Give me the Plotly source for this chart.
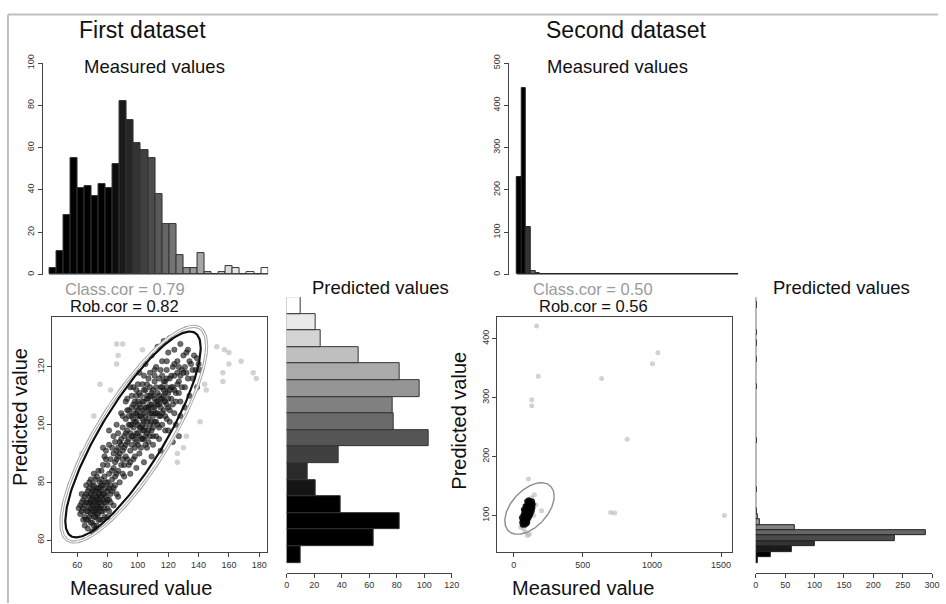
import numpy as np
import plotly.graph_objects as go

W, H = 946, 604

# ---------------- data ----------------
meas1_counts = [3, 11, 28, 55, 41, 42, 37, 43, 41, 52, 82, 73, 62, 59, 55, 38,
                24, 24, 9, 3, 3, 10, 1, 0, 1, 4, 3, 0, 1, 0, 3]
# predicted-value histogram, first dataset (bottom bin -> top bin)
pred1_counts = [10, 63, 82, 39, 21, 15, 38, 103, 78, 77, 97, 82, 52, 25, 21, 10]

meas2_counts = [230, 442, 112, 8, 4, 0, 0, 0, 0, 0, 0, 0, 0, 0, 0, 0, 0, 0, 0, 1,
                1, 1, 0, 0, 1, 0, 0, 0, 0, 0, 1, 1, 0, 0, 0, 0, 0, 0, 0, 0,
                0, 0, 0, 0, 0, 0, 1, 0]
pred2_counts = [4, 26, 62, 100, 237, 289, 66, 7, 4, 2, 0, 0, 0, 1, 0, 0, 0, 0, 0, 0,
                0, 0, 1, 0, 0, 0, 0, 0, 0, 0, 0, 0, 2, 0, 0, 0, 0, 2, 0, 0,
                1, 0, 1, 0, 0, 0, 0, 1, 0]

set1_inliers = [
    (63, 70), (64, 74), (65, 68), (65, 72), (66, 76), (66, 70), (67, 73), (67, 67), (68, 75), (68, 71),
    (68, 78), (69, 69), (69, 73), (69, 76), (70, 72), (70, 66), (70, 79), (71, 74), (71, 70), (71, 77),
    (72, 73), (72, 68), (72, 81), (73, 75), (73, 71), (73, 78), (74, 73), (74, 69), (74, 76), (75, 74),
    (75, 80), (75, 71), (76, 77), (76, 72), (76, 75), (77, 79), (77, 70), (77, 74), (78, 76), (78, 82),
    (78, 73), (79, 78), (79, 75), (80, 71), (80, 80), (80, 77), (81, 83), (81, 74), (82, 79), (82, 76),
    (83, 81), (84, 78), (84, 85), (85, 82), (86, 76), (86, 88), (87, 84), (88, 80), (89, 86), (90, 83),
    (62, 72), (64, 67), (66, 79), (67, 64), (70, 63), (73, 65), (75, 67), (78, 68), (81, 70), (84, 72),
    (87, 75), (71, 83), (74, 84), (77, 86), (79, 88), (69, 81), (63, 76), (61, 71), (65, 65), (72, 64),
    (82, 88), (83, 92), (85, 87), (86, 91), (88, 94), (80, 86), (79, 91), (84, 96), (87, 89), (90, 88),
    (76, 84), (78, 89), (81, 93), (91, 86), (94, 86), (97, 88), (77, 92), (81, 98),
    (88, 90), (89, 95), (90, 99), (91, 92), (92, 97), (92, 102), (93, 88), (93, 94), (94, 100), (94, 105),
    (95, 91), (95, 97), (96, 103), (96, 93), (97, 99), (97, 107), (98, 95), (98, 101), (98, 89), (99, 104),
    (99, 97), (100, 93), (100, 100), (100, 108), (101, 96), (101, 103), (102, 99), (102, 110), (102, 92), (103, 105),
    (103, 98), (104, 101), (104, 95), (104, 108), (105, 103), (105, 99), (105, 112), (106, 106), (106, 97), (107, 102),
    (107, 109), (107, 94), (108, 104), (108, 100), (108, 113), (109, 107), (109, 98), (110, 103), (110, 110), (110, 96),
    (111, 106), (111, 115), (112, 101), (112, 108), (113, 104), (113, 111), (114, 99), (114, 107), (115, 113), (115, 103),
    (116, 109), (116, 117), (117, 105), (117, 112), (118, 108), (118, 115), (119, 102), (119, 119), (120, 111), (120, 106),
    (121, 116), (122, 109), (122, 113), (123, 120), (124, 104), (124, 117), (125, 111), (126, 122), (127, 115), (128, 108),
    (129, 119), (130, 124), (131, 113), (132, 118), (133, 126), (134, 110), (135, 121), (136, 116), (137, 124), (138, 119),
    (139, 113), (140, 121), (141, 119), (132, 125), (139, 123), (128, 128), (124, 126), (120, 125), (116, 122), (112, 120),
    (108, 118), (104, 117), (100, 114), (96, 110), (92, 108), (89, 104), (86, 100), (85, 94), (84, 90), (87, 97),
    (90, 103), (93, 109), (97, 113), (101, 118), (105, 121), (109, 124), (113, 127), (117, 129), (121, 130), (111, 119),
    (106, 114), (103, 95), (106, 92), (110, 93), (114, 95), (118, 98), (121, 101), (125, 100), (128, 103), (131, 106),
    (127, 96), (123, 94), (115, 91), (109, 89), (104, 87), (99, 85), (95, 83), (91, 82),
    (102, 106), (103, 102), (106, 109), (109, 101), (111, 104), (99, 101), (101, 107), (104, 104), (107, 105), (113, 108),
    (96, 100), (94, 95), (110, 112), (114, 116), (117, 110), (119, 113), (108, 110), (100, 105), (97, 96), (92, 93),
    (70, 75), (72, 77), (74, 71), (68, 73), (71, 72), (73, 74), (75, 76), (69, 71), (76, 79), (72, 70),
    (64, 71), (66, 73), (67, 70), (68, 68), (69, 74), (70, 70), (70, 77), (71, 68), (72, 75), (73, 69),
    (73, 72), (74, 78), (75, 73), (76, 70), (76, 81), (77, 76), (78, 71), (79, 73), (79, 80), (80, 74),
    (81, 78), (82, 73), (83, 77), (83, 84), (85, 79), (86, 83), (67, 77), (65, 75), (63, 73), (62, 69),
    (66, 67), (69, 66), (71, 65), (74, 67), (77, 67), (80, 68), (68, 80), (71, 79), (73, 82), (75, 78),
    (95, 100), (96, 106), (97, 102), (98, 108), (99, 94), (99, 110), (100, 97), (100, 103), (101, 99), (101, 111),
    (102, 95), (102, 103), (103, 108), (103, 100), (104, 98), (104, 112), (105, 106), (105, 96), (106, 101), (106, 110),
    (107, 98), (107, 106), (108, 96), (108, 107), (109, 104), (109, 111), (110, 99), (110, 106), (111, 101), (111, 109),
    (112, 104), (112, 113), (113, 100), (113, 107), (114, 110), (114, 103), (115, 106), (115, 109), (116, 104), (116, 113),
    (117, 108), (117, 115), (118, 103), (118, 111), (119, 107), (119, 116), (120, 109), (121, 105), (121, 112), (122, 117),
    (123, 107), (123, 113), (124, 121), (125, 108), (126, 114), (126, 118), (127, 111), (128, 117), (129, 113), (130, 118),
    (131, 120), (133, 116), (134, 122), (136, 119), (96, 96), (93, 98), (91, 96), (94, 103), (97, 104), (99, 106),
    (90, 91), (92, 89), (95, 87), (98, 92), (89, 93), (87, 92), (101, 90), (105, 93), (112, 96), (116, 100),
    (120, 98), (124, 112), (127, 120), (119, 122), (115, 119), (111, 117), (107, 116), (103, 114), (99, 112), (95, 113),
    (93, 105),
]
set1_outliers = [
    (86, 128), (90, 128), (87, 124), (86, 121), (75, 114), (82, 112), (71, 103), (63, 90), (103, 126),
    (152, 127), (157, 126), (160, 125), (160, 121), (168, 122), (156, 118), (156, 115), (176, 118),
    (178, 116), (144, 114), (141, 101), (130, 92), (126, 90), (126, 87), (145, 112), (132, 96),
]

set2_inliers = [
    (60, 88), (65, 92), (70, 95), (72, 90), (75, 98), (78, 93), (80, 100), (82, 96), (84, 88), (85, 103),
    (88, 99), (90, 94), (90, 106), (92, 101), (94, 97), (95, 108), (96, 103), (98, 99), (100, 110), (100, 94),
    (102, 105), (104, 101), (105, 112), (106, 97), (108, 107), (110, 103), (110, 115), (112, 109), (114, 105), (115, 118),
    (116, 111), (118, 107), (120, 114), (122, 120), (124, 110), (125, 116), (128, 112), (130, 121), (132, 117), (135, 124),
    (138, 113), (140, 119), (68, 100), (74, 104), (80, 108), (86, 112), (92, 114), (98, 118), (104, 122), (58, 96),
    (64, 84), (76, 86), (88, 90), (96, 92), (108, 95), (118, 100), (126, 104), (134, 108), (82, 84), (94, 86),
    (100, 88), (112, 98), (120, 102), (72, 110), (84, 116), (96, 124), (108, 126), (120, 125),
]
set2_outliers = [
    (166, 421), (178, 336), (131, 296), (131, 286), (636, 332), (1004, 357), (1043, 376), (821, 229),
    (702, 105), (731, 104), (1524, 100), (107, 162), (150, 135), (202, 108), (114, 68), (130, 130),
    (160, 118), (85, 72), (100, 66), (70, 78), (52, 80), (145, 100),
]

# ellipse parameters: centre, half extents, correlation
ell1_robust = dict(cx=96.8, cy=96.6, ax=44.6, ay=35.7, rho=0.84)
ell1_class = dict(cx=97.3, cy=96.7, ax=48.0, ay=37.4, rho=0.82)
ell2_class = dict(cx=114.5, cy=111.8, ax=178.5, ay=43.7, rho=0.48)

titles = ["First dataset", "Second dataset"]
class_cor = ["Class.cor = 0.79", "Class.cor = 0.50"]
rob_cor = ["Rob.cor = 0.82", "Rob.cor = 0.56"]

# ---------------- helpers ----------------
FONT = "Liberation Sans, Arial, sans-serif"
TICKFONT = dict(family=FONT, size=9, color="#333")


def gray_scale(n, lo, hi):
    out = []
    for i in range(n):
        v = int(round(min(max((i - lo) / (hi - lo), 0.0), 1.0) * 255))
        out.append(f"rgb({v},{v},{v})")
    return out


def ellipse(p, n=240):
    t = np.linspace(0, 2 * np.pi, n)
    x = p["cx"] + p["ax"] * np.cos(t)
    y = p["cy"] + p["ay"] * (p["rho"] * np.cos(t) + np.sqrt(1 - p["rho"] ** 2) * np.sin(t))
    return x, y


def px_x(v):
    return v / W


def px_y(v):
    return 1 - v / H


fig = go.Figure()

# ---- histogram: measured values, dataset 1 ----
idx = list(range(len(meas1_counts)))
fig.add_trace(go.Bar(x=idx, y=meas1_counts, width=1, xaxis="x", yaxis="y",
                     marker=dict(color=gray_scale(len(idx), 8, 28), line=dict(color="#333", width=1))))
fig.add_trace(go.Scatter(x=[-0.5, len(idx) - 0.5], y=[0, 0], mode="lines", xaxis="x", yaxis="y",
                         line=dict(color="#333", width=1)))

# ---- scatter dataset 1 ----
ox, oy = zip(*set1_outliers)
fig.add_trace(go.Scatter(x=ox, y=oy, mode="markers", xaxis="x2", yaxis="y2",
                         marker=dict(size=5.5, color="rgba(165,165,165,0.5)", line=dict(width=0))))
ix, iy = zip(*set1_inliers)
fig.add_trace(go.Scatter(x=ix, y=iy, mode="markers", xaxis="x2", yaxis="y2",
                         marker=dict(size=5.5, color="rgba(30,30,30,0.65)", line=dict(width=0.6, color="rgba(0,0,0,0.5)"))))
ex, ey = ellipse(ell1_class)
fig.add_trace(go.Scatter(x=ex, y=ey, mode="lines", xaxis="x2", yaxis="y2", line=dict(color="#a8a8a8", width=3.2)))
fig.add_trace(go.Scatter(x=ex, y=ey, mode="lines", xaxis="x2", yaxis="y2", line=dict(color="#ffffff", width=1.1)))
ex, ey = ellipse(ell1_robust)
fig.add_trace(go.Scatter(x=ex, y=ey, mode="lines", xaxis="x2", yaxis="y2", line=dict(color="#111", width=2.2)))

# ---- histogram: predicted values, dataset 1 (horizontal) ----
idx = list(range(len(pred1_counts)))
fig.add_trace(go.Bar(x=pred1_counts, y=idx, orientation="h", width=1, xaxis="x3", yaxis="y3",
                     marker=dict(color=gray_scale(len(idx), 3, 15), line=dict(color="#333", width=1))))

# ---- histogram: measured values, dataset 2 ----
idx = list(range(len(meas2_counts)))
fig.add_trace(go.Bar(x=idx, y=meas2_counts, width=1, xaxis="x4", yaxis="y4",
                     marker=dict(color=gray_scale(len(idx), 1, 6), line=dict(color="#222", width=1))))
fig.add_trace(go.Scatter(x=[-0.5, len(idx) - 0.5], y=[0, 0], mode="lines", xaxis="x4", yaxis="y4",
                         line=dict(color="#333", width=1)))

# ---- scatter dataset 2 ----
ox, oy = zip(*set2_outliers)
fig.add_trace(go.Scatter(x=ox, y=oy, mode="markers", xaxis="x5", yaxis="y5",
                         marker=dict(size=5, color="rgba(165,165,165,0.5)", line=dict(width=0))))
ix, iy = zip(*set2_inliers)
fig.add_trace(go.Scatter(x=ix, y=iy, mode="markers", xaxis="x5", yaxis="y5",
                         marker=dict(size=5.5, color="rgba(0,0,0,0.85)", line=dict(width=0))))
ex, ey = ellipse(ell2_class)
fig.add_trace(go.Scatter(x=ex, y=ey, mode="lines", xaxis="x5", yaxis="y5",
                         line=dict(color="#8c8c8c", width=1.4)))

# ---- histogram: predicted values, dataset 2 (horizontal) ----
idx = list(range(len(pred2_counts)))
fig.add_trace(go.Bar(x=pred2_counts, y=idx, orientation="h", width=1, xaxis="x6", yaxis="y6",
                     marker=dict(color=gray_scale(len(idx), 1, 11), line=dict(color="#222", width=1))))
fig.add_trace(go.Scatter(x=[0, 0], y=[-0.5, len(idx) - 0.5], mode="lines", xaxis="x6", yaxis="y6",
                         line=dict(color="#333", width=1)))

# ---------------- axes ----------------
hidden = dict(visible=False, fixedrange=True)
lin = dict(showline=True, linecolor="#444", linewidth=1, ticks="outside", ticklen=4,
           tickcolor="#444", tickfont=TICKFONT, showgrid=False, zeroline=False)

layout = dict(
    width=W, height=H, margin=dict(l=0, r=0, t=0, b=0, pad=0), autosize=False,
    paper_bgcolor="white", plot_bgcolor="white", showlegend=False, bargap=0,
    # hist 1
    xaxis=dict(hidden, domain=[px_x(40), px_x(268.3)], range=[-1.44, len(meas1_counts) - 0.5], anchor="y"),
    yaxis=dict(lin, domain=[px_y(270), px_y(55)], range=[0, 100], tickvals=[0, 20, 40, 60, 80, 100],
               tickangle=-90, anchor="x"),
    # scatter 1
    xaxis2=dict(lin, domain=[px_x(50), px_x(267)], range=[43.7, 185], tickvals=[60, 80, 100, 120, 140, 160, 180],
                mirror=True, anchor="y2"),
    yaxis2=dict(lin, domain=[px_y(552), px_y(313)], range=[55.9, 137.4], tickvals=[60, 80, 100, 120],
                tickangle=-90, mirror=True, anchor="x2"),
    # pred hist 1
    xaxis3=dict(lin, domain=[px_x(287), px_x(454)], range=[0, 120], tickvals=[0, 20, 40, 60, 80, 100, 120],
                anchor="y3"),
    yaxis3=dict(hidden, domain=[px_y(573), px_y(293)], range=[-1.093, len(pred1_counts) - 0.5], anchor="x3"),
    # hist 2
    xaxis4=dict(hidden, domain=[px_x(511.7), px_x(744)], range=[-2.28, len(meas2_counts) - 0.5], anchor="y4"),
    yaxis4=dict(lin, domain=[px_y(270), px_y(55)], range=[0, 500], tickvals=[0, 100, 200, 300, 400, 500],
                tickangle=-90, anchor="x4"),
    # scatter 2
    xaxis5=dict(lin, domain=[px_x(500), px_x(738)], range=[-119, 1582], tickvals=[0, 500, 1000, 1500],
                mirror=True, anchor="y5"),
    yaxis5=dict(lin, domain=[px_y(552), px_y(313)], range=[38.3, 436.7], tickvals=[100, 200, 300, 400],
                tickangle=-90, mirror=True, anchor="x5"),
    # pred hist 2
    xaxis6=dict(lin, domain=[px_x(761.7), px_x(940)], range=[0, 300], tickvals=[0, 50, 100, 150, 200, 250, 300],
                anchor="y6"),
    yaxis6=dict(hidden, domain=[px_y(573), px_y(293)], range=[-2.31, len(pred2_counts) - 0.5], anchor="x6"),
)
fig.update_layout(**layout)


def label(text, x, y, size, color="#111", angle=0):
    fig.add_annotation(text=text, x=px_x(x), y=px_y(y), xref="paper", yref="paper",
                       xanchor="center", yanchor="middle", showarrow=False, textangle=angle,
                       font=dict(family=FONT, size=size, color=color))


label(titles[0], 141, 21, 23)
label(titles[1], 630, 21, 23)
label("Measured values", 153, 58, 18.5)
label("Measured values", 622, 58, 18.5)
label(class_cor[0], 123, 285, 16.5, color="#9a9a9a")
label(rob_cor[0], 123, 302, 16.5)
label(class_cor[1], 597, 285, 16.5, color="#9a9a9a")
label(rob_cor[1], 597, 302, 16.5)
label("Predicted values", 382, 283, 18.5)
label("Predicted values", 848, 283, 18.5)
label("Measured value", 140, 589, 20)
label("Measured value", 587, 589, 20)
label("Predicted value", 17, 415, 20, angle=-90)
label("Predicted value", 461, 419, 20, angle=-90)

# light frame of the figure (top and left edges)
fig.add_shape(type="line", xref="paper", yref="paper", x0=px_x(5), x1=1, y0=px_y(5.5), y1=px_y(5.5),
              line=dict(color="#c0c0c0", width=2))
fig.add_shape(type="line", xref="paper", yref="paper", x0=px_x(5), x1=px_x(5), y0=0, y1=px_y(5.5),
              line=dict(color="#c0c0c0", width=2))

# pin the figure to the viewport's top-left corner (no body margin)
pin = ("document.documentElement.style.margin='0';document.body.style.margin='0';"
       "document.body.style.padding='0';document.body.style.overflow='hidden';"
       "var d=document.getElementById('{plot_id}');d.style.position='fixed';"
       "d.style.left='0px';d.style.top='0px';")
fig.write_html("out.html", post_script=pin, config={"displayModeBar": False})
